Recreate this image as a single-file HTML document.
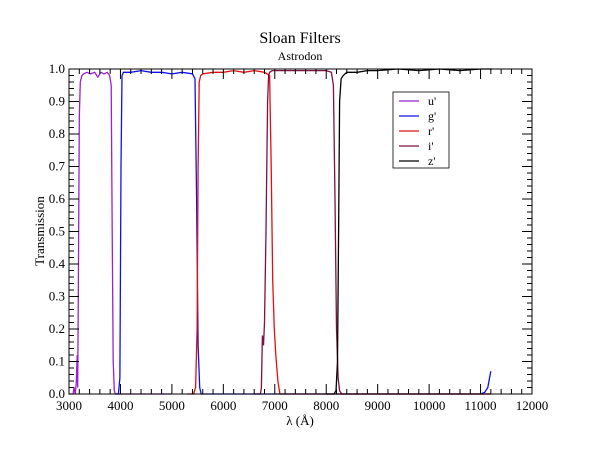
<!DOCTYPE html>
<html><head><meta charset="utf-8"><style>
body{margin:0;background:#fff;}
svg{display:block;font-family:"Liberation Serif",serif;}
</style></head><body>
<svg id="chart" width="600" height="464"></svg>
<script>
const uWl=[3000,3080,3100,3120,3140,3160,3170,3180,3200,3220,3250,3280,3350,3420,3500,3560,3620,3680,3740,3790,3820,3840,3860,3880,3900,4000,4500,5000];
const uT=[0,0,0.02,0,0.03,0.12,0.02,0.3,0.85,0.96,0.98,0.985,0.99,0.985,0.99,0.975,0.99,0.985,0.99,0.98,0.95,0.5,0.1,0.01,0,0,0,0];
const gWl=[3900,3960,3990,4010,4030,4060,4200,4400,4600,4800,5000,5200,5400,5450,5480,5510,5540,5570,5600,6000,8000,10000,11000,11080,11140,11200];
const gT=[0,0,0.05,0.7,0.98,0.99,0.99,0.995,0.99,0.99,0.985,0.99,0.985,0.97,0.6,0.15,0.02,0,0,0,0,0,0,0.005,0.02,0.07];
const rWl=[5300,5420,5460,5490,5510,5530,5560,5600,5800,6000,6200,6400,6600,6800,6900,6930,6960,6990,7020,7060,7100,7200,11200];
const rT=[0,0,0.02,0.2,0.7,0.96,0.98,0.985,0.99,0.99,0.995,0.99,0.995,0.99,0.98,0.7,0.35,0.2,0.12,0.04,0,0,0];
const iWl=[6600,6720,6740,6760,6780,6800,6830,6860,6880,6900,6950,7200,7500,7800,8000,8100,8140,8170,8200,8230,8260,8300,11200];
const iT=[0,0,0.02,0.18,0.15,0.22,0.5,0.9,0.98,0.99,0.995,0.995,0.995,0.995,0.995,0.99,0.95,0.6,0.2,0.05,0.01,0,0];
const zWl=[8000,8150,8190,8220,8240,8260,8290,8330,8400,8600,8800,9000,9400,9800,10200,10600,11000,11230];
const zT=[0,0,0.01,0.1,0.5,0.9,0.97,0.98,0.99,0.99,0.995,0.995,1.0,0.995,1.0,0.995,1.0,1.0];
const xTicks=[3000,4000,5000,6000,7000,8000,9000,10000,11000,12000];
const yTicks=[0,0.1,0.2,0.3,0.4,0.5,0.6,0.7,0.8,0.9,1.0];
const seriesNames=["u'","g'","r'","i'","z'"];
const seriesColors=["#9a20d0","#1010ee","#e01010","#801040","#000000"];

const svg=document.getElementById('chart');
const NS='http://www.w3.org/2000/svg';
const L=69,R=532,T=69,B=394;
const X=v=>L+(v-3000)/9000*(R-L);
const Y=v=>B-v*(B-T);
function mk(tag,attrs,parent){const e=document.createElementNS(NS,tag);for(const k in attrs)e.setAttribute(k,attrs[k]);(parent||svg).appendChild(e);return e;}

const t1=mk('text',{x:300,y:43,'text-anchor':'middle','font-size':16});
t1.textContent='Sloan Filters';


const t2=mk('text',{x:300,y:60,'text-anchor':'middle','font-size':12});
t2.textContent='Astrodon';



const data=[[uWl,uT],[gWl,gT],[rWl,rT],[iWl,iT],[zWl,zT]];
data.forEach((d,i)=>{
  const pts=d[0].map((w,j)=>X(w).toFixed(1)+','+Y(d[1][j]).toFixed(1)).join(' ');
  const p=mk('polyline',{points:pts,fill:'none',stroke:seriesColors[i],'stroke-width':1.3});
  
  
});

const ax=mk('g',{});


mk('rect',{x:L,y:T,width:R-L,height:B-T,fill:'none',stroke:'#000','stroke-width':1},ax);
for(let v=3000;v<=12000;v+=200){
  const major=v%1000===0,len=major?10:5,x=X(v);
  mk('line',{x1:x,y1:B,x2:x,y2:B-len,stroke:'#000'},ax);
  mk('line',{x1:x,y1:T,x2:x,y2:T+len,stroke:'#000'},ax);
}
for(let k=0;k<=50;k++){
  const v=k*0.02,major=k%5===0,len=major?10:5,y=Y(v);
  mk('line',{x1:L,y1:y,x2:L+len,y2:y,stroke:'#000'},ax);
  mk('line',{x1:R,y1:y,x2:R-len,y2:y,stroke:'#000'},ax);
}
xTicks.forEach(v=>{
  const t=mk('text',{x:X(v),y:B+16,'text-anchor':'middle','font-size':13},ax);
  t.textContent=v;
  
  
});
yTicks.forEach(v=>{
  const t=mk('text',{x:L-4,y:Y(v)+4,'text-anchor':'end','font-size':13},ax);
  t.textContent=v.toFixed(1);
  
  
});
const xl=mk('text',{x:300,y:425,'text-anchor':'middle','font-size':13});
xl.textContent='λ (Å)';


const yl=mk('text',{x:44,y:231,'text-anchor':'middle','font-size':13,transform:'rotate(-90 44 231)'});
yl.textContent='Transmission';



const lg=mk('g',{});


mk('rect',{x:393,y:92,width:56,height:76,fill:'#fff',stroke:'#000','stroke-width':0.8},lg);
seriesNames.forEach((n,i)=>{
  const y=101+i*15;
  const e=mk('g',{},lg);
  
  
  mk('line',{x1:399,y1:y,x2:419,y2:y,stroke:seriesColors[i],'stroke-width':1.3},e);
  const t=mk('text',{x:428,y:y+4,'font-size':12},e);
  t.textContent=n;
});
</script>
</body></html>
